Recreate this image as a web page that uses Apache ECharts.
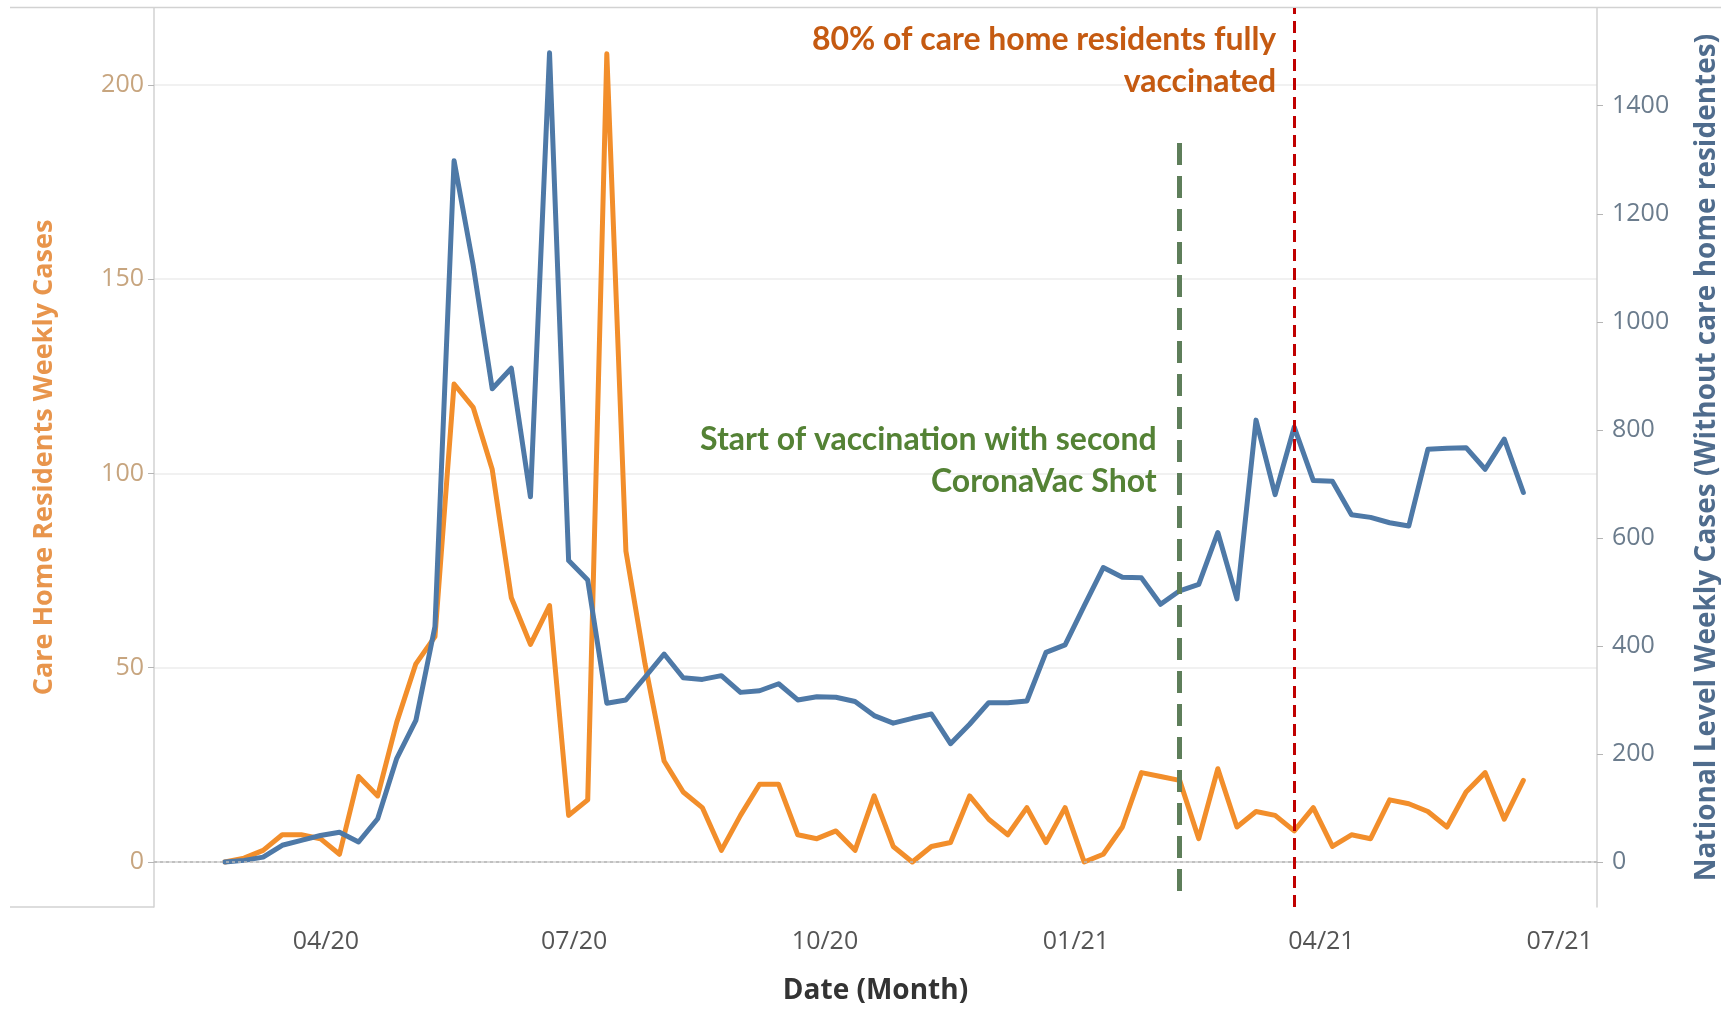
<!DOCTYPE html>
<html>
<head>
<meta charset="utf-8">
<title>Care home residents vs national weekly cases</title>
<script src="https://cdn.jsdelivr.net/npm/echarts@6/dist/echarts.min.js"></script>
<style>
  html, body { margin: 0; padding: 0; background: #fff; }
  #chart { width: 1721px; height: 1010px; }
</style>
</head>
<body>
<div id="chart"></div>
<script>
// weekly data (week start dates)
const weeks = [
  '2020-02-24', '2020-03-02', '2020-03-09', '2020-03-16', '2020-03-23', '2020-03-30',
  '2020-04-06', '2020-04-13', '2020-04-20', '2020-04-27', '2020-05-04', '2020-05-11',
  '2020-05-18', '2020-05-25', '2020-06-01', '2020-06-08', '2020-06-15', '2020-06-22',
  '2020-06-29', '2020-07-06', '2020-07-13', '2020-07-20', '2020-07-27', '2020-08-03',
  '2020-08-10', '2020-08-17', '2020-08-24', '2020-08-31', '2020-09-07', '2020-09-14',
  '2020-09-21', '2020-09-28', '2020-10-05', '2020-10-12', '2020-10-19', '2020-10-26',
  '2020-11-02', '2020-11-09', '2020-11-16', '2020-11-23', '2020-11-30', '2020-12-07',
  '2020-12-14', '2020-12-21', '2020-12-28', '2021-01-04', '2021-01-11', '2021-01-18',
  '2021-01-25', '2021-02-01', '2021-02-08', '2021-02-15', '2021-02-22', '2021-03-01',
  '2021-03-08', '2021-03-15', '2021-03-22', '2021-03-29', '2021-04-05', '2021-04-12',
  '2021-04-19', '2021-04-26', '2021-05-03', '2021-05-10', '2021-05-17', '2021-05-24',
  '2021-05-31', '2021-06-07', '2021-06-14'
]

const careHomeCases = [
  0, 1, 3, 7, 7, 6, 2, 22, 17, 36, 51, 58,
  123, 117, 101, 68, 56, 66, 12, 16, 208, 80, 51, 26,
  18, 14, 3, 12, 20, 20, 7, 6, 8, 3, 17, 4,
  0, 4, 5, 17, 11, 7, 14, 5, 14, 0, 2, 9,
  23, 22, 21, 6, 24, 9, 13, 12, 8, 14, 4, 7,
  6, 16, 15, 13, 9, 18, 23, 11, 21
]

const nationalCases = [
  0, 3, 9, 31, 40, 49, 55, 37, 80, 192, 262, 436,
  1298, 1105, 876, 914, 676, 1498, 558, 522, 294, 300, 342, 385,
  341, 338, 345, 314, 317, 330, 300, 306, 305, 297, 271, 257,
  266, 274, 219, 255, 295, 295, 298, 388, 402, 474, 545, 527,
  526, 477, 502, 514, 610, 487, 818, 680, 805, 706, 705, 643,
  638, 628, 622, 764, 766, 767, 727, 783, 684
]

const leftTicks = [0, 50, 100, 150, 200]
const rightTicks = [0, 200, 400, 600, 800, 1000, 1200, 1400]
const monthTicks = ['2020-04-01', '2020-07-01', '2020-10-01', '2021-01-01', '2021-04-01', '2021-07-01']

const secondShotStart = '2021-02-08'
const fullyVaccinated80 = '2021-03-22'

const ts = s => Date.parse(s + 'T00:00:00Z')

const chart = echarts.init(document.getElementById('chart'))

function monthLabel(v) {
  const d = new Date(v)
  const txt = String(d.getUTCMonth() + 1).padStart(2, '0') + '/' + String(d.getUTCFullYear()).slice(2)
  // last label sits against the right axis, nudge it left like the original
  return v === ts(monthTicks[monthTicks.length - 1]) ? '{edge|' + txt + '}' : txt
}

const tickFont = { fontFamily: 'Open Sans', fontSize: 25 }
const titleFont = { fontFamily: 'Open Sans', fontWeight: 'bold' }

chart.setOption({
  animation: false,
  // keep the plot box fixed, the right title runs close to the page edge
  grid: { left: 154, right: 124, top: 8, bottom: 103, outerBoundsMode: 'none' },
  xAxis: {
    // dates kept as UTC timestamps on a value axis so month ticks can be placed exactly
    type: 'value',
    min: ts('2020-01-29'),
    max: ts('2021-07-11'),
    name: 'Date (Month)',
    nameLocation: 'middle',
    nameGap: 70,
    nameTextStyle: { ...titleFont, fontSize: 28, color: '#333333' },
    axisLine: { show: true, lineStyle: { color: '#D2D2D2', width: 1.5 } },
    axisTick: { show: false },
    axisLabel: {
      ...tickFont,
      color: '#555555',
      margin: 22,
      customValues: monthTicks.map(ts),
      formatter: monthLabel,
      rich: { edge: { ...tickFont, color: '#555555', padding: [0, 20, 0, 0] } },
    },
    splitLine: { show: false },
  },
  yAxis: [
    {
      type: 'value',
      position: 'left',
      min: -11.58,
      max: 219.77,
      name: 'Care Home Residents Weekly Cases',
      nameLocation: 'middle',
      nameRotate: 90,
      nameGap: 96,
      nameTextStyle: { ...titleFont, fontSize: 27, color: '#E8954C' },
      axisLine: { show: true, lineStyle: { color: '#D2D2D2', width: 1.5 } },
      axisTick: { show: true, length: 6, customValues: leftTicks, lineStyle: { color: '#B5B5B5' } },
      axisLabel: { ...tickFont, color: '#C7A57F', margin: 10, customValues: leftTicks },
      splitLine: { show: true, lineStyle: { color: '#EDEDED', width: 1.5 } },
    },
    {
      type: 'value',
      position: 'right',
      min: -83.3,
      max: 1580.9,
      name: 'National Level Weekly Cases (Without care home residentes)',
      nameLocation: 'middle',
      nameRotate: 90,
      nameGap: 96,
      nameTextStyle: { ...titleFont, fontSize: 28, color: '#4F6C8D' },
      axisLine: { show: true, lineStyle: { color: '#D2D2D2', width: 1.5 } },
      axisTick: { show: true, length: 6, customValues: rightTicks, lineStyle: { color: '#B5B5B5' } },
      axisLabel: { ...tickFont, color: '#6B7C8D', margin: 15, customValues: rightTicks, formatter: v => String(v) },
      splitLine: { show: false },
    },
  ],
  series: [
    {
      name: 'Care Home Residents Weekly Cases',
      type: 'line',
      yAxisIndex: 0,
      showSymbol: false,
      data: weeks.map((w, i) => [ts(w), careHomeCases[i]]),
      lineStyle: { color: '#F28E2B', width: 5, join: 'round', cap: 'round' },
      itemStyle: { color: '#F28E2B' },
      markLine: {
        silent: true,
        symbol: 'none',
        label: { show: false },
        data: [
          { yAxis: 0, lineStyle: { color: '#B8B8B8', width: 1.5, type: [3, 3] } },
          [
            { coord: [ts(secondShotStart), 185], lineStyle: { color: '#5E7E5A', width: 5, type: [22, 11] } },
            { coord: [ts(secondShotStart), -8.5] },
          ],
          { xAxis: ts(fullyVaccinated80), lineStyle: { color: '#C00000', width: 3, type: [12, 7] } },
        ],
      },
    },
    {
      name: 'National Level Weekly Cases',
      type: 'line',
      yAxisIndex: 1,
      showSymbol: false,
      data: weeks.map((w, i) => [ts(w), nationalCases[i]]),
      lineStyle: { color: '#4E79A7', width: 5, join: 'round', cap: 'round' },
      itemStyle: { color: '#4E79A7' },
    },
  ],
})

// frame lines and annotations placed from the axis positions
const greenX = chart.convertToPixel({ xAxisIndex: 0 }, ts(secondShotStart))
const redX = chart.convertToPixel({ xAxisIndex: 0 }, ts(fullyVaccinated80))
const noteFont = { fontFamily: 'Lato', fontSize: 32, fontWeight: 'bold' }

chart.setOption({
  graphic: [
    { type: 'line', silent: true, shape: { x1: 10, y1: 7.5, x2: 1721, y2: 7.5 }, style: { stroke: '#D2D2D2', lineWidth: 1.5 } },
    { type: 'line', silent: true, shape: { x1: 10, y1: 907, x2: 154, y2: 907 }, style: { stroke: '#D2D2D2', lineWidth: 1.5 } },
    {
      type: 'text', silent: true, x: redX - 18, y: 19,
      style: { ...noteFont, text: '80% of care home residents fully\nvaccinated', fill: '#C55A11', align: 'right', verticalAlign: 'top', lineHeight: 42 },
    },
    {
      type: 'text', silent: true, x: greenX - 23, y: 419,
      style: { ...noteFont, text: 'Start of vaccination with second\nCoronaVac Shot', fill: '#548235', align: 'right', verticalAlign: 'top', lineHeight: 42 },
    },
  ],
})
</script>
</body>
</html>
